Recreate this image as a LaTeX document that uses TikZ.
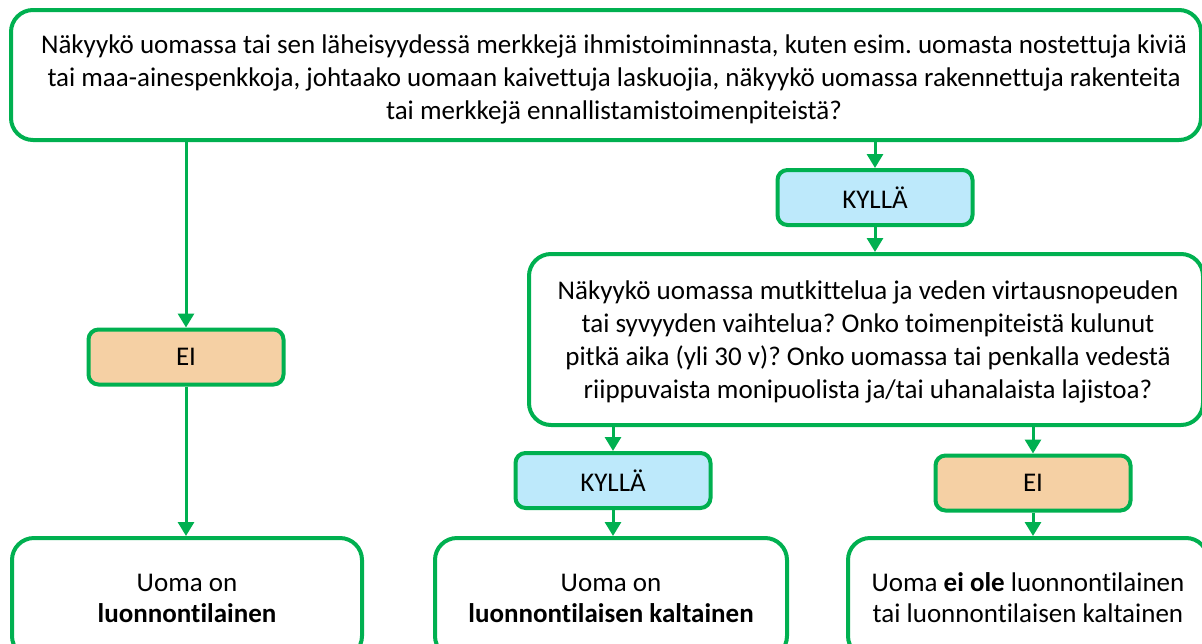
\documentclass[tikz,border=0pt]{standalone}
\usepackage{fontspec}
\setmainfont{Carlito}[Ligatures=NoCommon]
\usetikzlibrary{arrows.meta}
\definecolor{gline}{HTML}{00B050}
\definecolor{bluefill}{HTML}{BDE9FB}
\definecolor{orangefill}{HTML}{F5D0A4}
\tikzset{
  qbox/.style={draw=gline, line width=4pt, rounded corners=22pt, fill=white, align=center, inner sep=0pt,
    font=\fontsize{27}{33}\selectfont},
  qtext/.style={align=center, inner sep=0pt, font=\fontsize{27}{33}\selectfont},
  endbox/.style={qbox, font=\fontsize{27}{31}\selectfont},
  yesbox/.style={draw=gline, line width=4pt, rounded corners=10pt, fill=bluefill, inner sep=0pt,
    minimum width=195pt, minimum height=55pt, font=\fontsize{27}{30}\selectfont},
  nobox/.style={yesbox, fill=orangefill},
  conn/.style={draw=gline, line width=3pt, -{Triangle[length=14pt,width=16pt]}},
}
\begin{document}
\frenchspacing
\begin{tikzpicture}[x=1pt,y=-1pt]
\useasboundingbox (0,0) rectangle (1202,643);
\clip (0,0) rectangle (1202,643);
\node[qbox, minimum width=1190pt, minimum height=130pt] (q1) at (606,75) {};
\node[qtext] (q1t) at (614,79)
 {Näkyykö uomassa tai sen läheisyydessä merkkejä ihmistoiminnasta, kuten esim. uomasta nostettuja kiviä\\
  tai maa-ainespenkkoja, johtaako uomaan kaivettuja laskuojia, näkyykö uomassa rakennettuja rakenteita\\
  tai merkkejä ennallistamistoimenpiteistä?};
\node[nobox] (ei1) at (186,357) {EI};
\node[endbox, minimum width=350pt, minimum height=120pt] (r1) at (187,598)
 {Uoma on\\ \textbf{luonnontilainen}};
\node[yesbox] (k1) at (875,197.5) {KYLLÄ};
\node[qbox, minimum width=674pt, minimum height=171pt] (q2) at (866,339.5) {};
\node[qtext] (q2t) at (868,342)
 {Näkyykö uomassa mutkittelua ja veden virtausnopeuden\\
  tai syvyyden vaihtelua? Onko toimenpiteistä kulunut\\
  pitkä aika (yli 30 v)? Onko uomassa tai penkalla vedestä\\
  riippuvaista monipuolista ja/tai uhanalaista lajistoa?};
\node[yesbox] (k2) at (613,480.5) {KYLLÄ};
\node[nobox] (ei2) at (1033,483) {EI};
\node[endbox, minimum width=352pt, minimum height=120pt] (r2) at (611,598)
 {Uoma on\\ \textbf{luonnontilaisen kaltainen}};
\node[endbox, minimum width=360pt, minimum height=120pt] (r3) at (1028,598)
 {Uoma \textbf{ei ole} luonnontilainen\\ tai luonnontilaisen kaltainen};
\draw[conn] (q1.south -| ei1.north) -- (ei1.north);
\draw[conn] (ei1.south) -- (ei1.south |- r1.north);
\draw[conn] (q1.south -| k1.north) -- (k1.north);
\draw[conn] (k1.south) -- (k1.south |- q2.north);
\draw[conn] (q2.south -| k2.north) -- (k2.north);
\draw[conn] (k2.south) -- (k2.south |- r2.north);
\draw[conn] (q2.south -| ei2.north) -- (ei2.north);
\draw[conn] (ei2.south) -- (ei2.south |- r3.north);
\end{tikzpicture}
\end{document}
